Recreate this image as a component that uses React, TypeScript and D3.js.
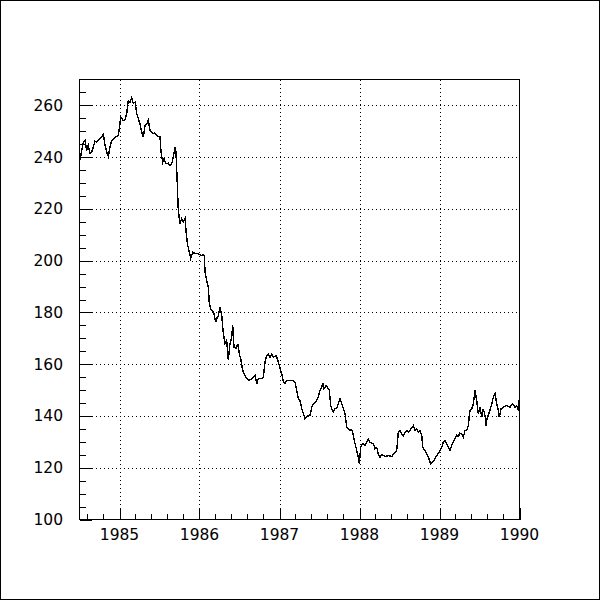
import { useEffect, useRef } from "react";
import * as d3 from "d3";

// time in decimal years
const years = [
  1984.506, 1984.528, 1984.548, 1984.569, 1984.59, 1984.61, 1984.631, 1984.653, 1984.673, 1984.694,
  1984.715, 1984.756, 1984.798, 1984.819, 1984.84, 1984.86, 1984.881, 1984.903, 1984.923, 1984.965,
  1984.985, 1984.998, 1985.015, 1985.028, 1985.048, 1985.069, 1985.09, 1985.11, 1985.131, 1985.153,
  1985.173, 1985.194, 1985.215, 1985.235, 1985.256, 1985.278, 1985.298, 1985.319, 1985.34, 1985.36,
  1985.381, 1985.403, 1985.423, 1985.444, 1985.465, 1985.485, 1985.506, 1985.519, 1985.54, 1985.556,
  1985.581, 1985.61, 1985.631, 1985.653, 1985.673, 1985.694, 1985.706, 1985.723, 1985.735, 1985.756,
  1985.778, 1985.798, 1985.819, 1985.831, 1985.848, 1985.873, 1985.89, 1985.915, 1985.944, 1985.985,
  1986.028, 1986.048, 1986.06, 1986.069, 1986.09, 1986.11, 1986.123, 1986.14, 1986.16, 1986.181,
  1986.203, 1986.215, 1986.235, 1986.256, 1986.278, 1986.298, 1986.319, 1986.34, 1986.36, 1986.381,
  1986.403, 1986.415, 1986.431, 1986.456, 1986.478, 1986.498, 1986.519, 1986.54, 1986.56, 1986.59,
  1986.619, 1986.653, 1986.694, 1986.715, 1986.735, 1986.778, 1986.798, 1986.819, 1986.84, 1986.86,
  1986.881, 1986.903, 1986.923, 1986.956, 1986.973, 1986.998, 1987.028, 1987.048, 1987.069, 1987.09,
  1987.131, 1987.173, 1987.194, 1987.215, 1987.235, 1987.256, 1987.278, 1987.298, 1987.319, 1987.34,
  1987.36, 1987.381, 1987.403, 1987.423, 1987.444, 1987.465, 1987.485, 1987.506, 1987.528, 1987.54,
  1987.556, 1987.581, 1987.598, 1987.623, 1987.64, 1987.66, 1987.673, 1987.694, 1987.715, 1987.735,
  1987.756, 1987.778, 1987.798, 1987.819, 1987.84, 1987.881, 1987.903, 1987.923, 1987.944, 1987.965,
  1987.985, 1987.998, 1988.015, 1988.04, 1988.069, 1988.09, 1988.11, 1988.131, 1988.173, 1988.194,
  1988.215, 1988.235, 1988.256, 1988.278, 1988.319, 1988.36, 1988.403, 1988.444, 1988.465, 1988.485,
  1988.506, 1988.528, 1988.548, 1988.569, 1988.59, 1988.61, 1988.631, 1988.673, 1988.694, 1988.715,
  1988.735, 1988.756, 1988.778, 1988.79, 1988.819, 1988.84, 1988.86, 1988.89, 1988.915, 1988.944,
  1988.965, 1988.998, 1989.028, 1989.048, 1989.069, 1989.09, 1989.11, 1989.131, 1989.153, 1989.173,
  1989.194, 1989.215, 1989.235, 1989.256, 1989.278, 1989.298, 1989.319, 1989.34, 1989.36, 1989.381,
  1989.403, 1989.423, 1989.444, 1989.465, 1989.485, 1989.506, 1989.528, 1989.548, 1989.569, 1989.581,
  1989.598, 1989.623, 1989.653, 1989.673, 1989.694, 1989.715, 1989.735, 1989.748, 1989.769, 1989.798,
  1989.84, 1989.881, 1989.915, 1989.944, 1989.965, 1989.985, 1989.994,
];

const rates = [
  238.8, 242.6, 245.8, 246.5, 242.6, 244.6, 241.5, 242.0, 243.9, 246.2,
  245.8, 247.1, 248.8, 244.6, 242.0, 240.3, 243.9, 246.5, 247.1, 248.0,
  248.4, 251.0, 255.5, 254.9, 254.2, 254.5, 256.8, 261.9, 261.3, 263.0,
  260.7, 261.3, 256.8, 254.9, 252.9, 249.7, 247.8, 252.3, 252.9, 254.2,
  250.4, 249.7, 249.1, 249.3, 248.4, 248.0, 247.8, 242.0, 238.1, 239.4,
  237.5, 237.7, 236.8, 237.5, 240.0, 243.7, 242.0, 229.1, 219.4, 214.3,
  216.2, 214.9, 216.2, 211.7, 206.6, 203.3, 200.8, 203.3, 202.7, 202.7,
  202.0, 202.4, 202.0, 195.6, 192.4, 189.8, 183.4, 181.4, 180.8, 179.5,
  176.3, 177.6, 178.8, 182.1, 178.8, 171.8, 167.9, 169.2, 161.5, 167.9,
  170.5, 175.0, 166.6, 166.0, 167.9, 164.0, 161.5, 157.6, 156.3, 154.4,
  153.7, 154.4, 155.7, 152.4, 154.4, 154.4, 155.0, 160.8, 163.4, 164.0,
  162.7, 164.0, 162.7, 163.4, 162.1, 159.5, 156.3, 153.1, 152.4, 153.7,
  153.7, 153.7, 153.1, 149.9, 146.7, 146.0, 142.8, 140.9, 138.9, 139.5,
  140.2, 140.2, 143.4, 144.7, 145.3, 146.0, 147.3, 149.9, 151.1, 152.7,
  150.5, 151.8, 151.1, 149.9, 144.1, 142.1, 141.5, 142.8, 142.8, 144.7,
  146.7, 144.7, 142.8, 140.9, 135.7, 134.4, 134.7, 132.5, 129.3, 126.7,
  124.1, 121.5, 127.9, 129.3, 128.6, 129.9, 131.2, 129.9, 129.3, 127.3,
  127.9, 125.4, 124.1, 125.1, 124.3, 124.7, 124.3, 126.0, 126.7, 133.7,
  134.4, 133.1, 132.5, 133.7, 134.4, 133.7, 134.4, 136.3, 134.4, 135.1,
  133.7, 134.4, 132.5, 127.9, 126.7, 125.4, 124.1, 121.5, 122.1, 123.5,
  124.7, 126.0, 127.9, 129.9, 130.5, 129.3, 127.9, 126.7, 128.6, 129.9,
  131.2, 132.5, 132.1, 133.4, 133.1, 131.8, 134.4, 134.4, 136.3, 142.1,
  142.8, 144.7, 149.9, 146.0, 140.9, 143.4, 139.5, 142.8, 140.2, 136.3,
  139.5, 141.5, 144.7, 147.3, 148.6, 144.7, 142.1, 139.5, 142.8, 143.4,
  144.1, 143.4, 144.7, 143.4, 144.1, 142.1, 146.0,
];

const xTicks = [1985, 1986, 1987, 1988, 1989, 1990];
const yTicks = [100, 120, 140, 160, 180, 200, 220, 240, 260];

export default function App() {
  const svgRef = useRef<SVGSVGElement>(null);

  useEffect(() => {
    if (!svgRef.current) return;
    const svg = d3.select(svgRef.current);
    svg.selectAll("*").remove();

    const W = 600;
    const H = 600;
    const left = 79.5;
    const right = 519.5;
    const top = 79.5;
    const bottom = 519.5;

    const x = d3.scaleLinear().domain([1984.5, 1990]).range([left, right]);
    const y = d3.scaleLinear().domain([100, 270]).range([bottom, top]);

    svg.append("rect").attr("width", W).attr("height", H).attr("fill", "#fff");
    svg
      .append("rect")
      .attr("x", 0.5)
      .attr("y", 0.5)
      .attr("width", W - 1)
      .attr("height", H - 1)
      .attr("fill", "none")
      .attr("stroke", "#000");

    // dotted grid
    const grid = svg
      .append("g")
      .attr("stroke", "#000")
      .attr("stroke-width", 1)
      .attr("stroke-dasharray", "1,3")
      .attr("shape-rendering", "crispEdges");
    grid
      .selectAll("line.gx")
      .data(xTicks.filter((t) => t < 1990))
      .join("line")
      .attr("class", "gx")
      .attr("x1", (d) => Math.round(x(d)) + 0.5)
      .attr("x2", (d) => Math.round(x(d)) + 0.5)
      .attr("y1", top)
      .attr("y2", bottom);
    grid
      .selectAll("line.gy")
      .data(yTicks.filter((t) => t > 100))
      .join("line")
      .attr("class", "gy")
      .attr("x1", left)
      .attr("x2", right)
      .attr("y1", (d) => Math.round(y(d)) + 0.5)
      .attr("y2", (d) => Math.round(y(d)) + 0.5);

    // curve
    const pts = years.map((t, i) => [t, rates[i]] as [number, number]);
    svg
      .append("path")
      .datum(pts)
      .attr("fill", "none")
      .attr("stroke", "#000")
      .attr("stroke-width", 1.4)
      .attr("shape-rendering", "crispEdges")
      .attr(
        "d",
        d3
          .line<[number, number]>()
          .x((d) => x(d[0]))
          .y((d) => y(d[1])),
      );

    // frame
    svg
      .append("rect")
      .attr("x", left)
      .attr("y", top)
      .attr("width", right - left)
      .attr("height", bottom - top)
      .attr("fill", "none")
      .attr("stroke", "#000")
      .attr("shape-rendering", "crispEdges");

    const ticks = svg.append("g").attr("stroke", "#000").attr("shape-rendering", "crispEdges");

    // y ticks: major every 20, minor every 5
    const yMinor = d3.range(105, 270, 5).filter((v) => v % 20 !== 0);
    ticks
      .selectAll("line.ym")
      .data(yTicks)
      .join("line")
      .attr("class", "ym")
      .attr("x1", left)
      .attr("x2", left + 12)
      .attr("y1", (d) => Math.round(y(d)) + 0.5)
      .attr("y2", (d) => Math.round(y(d)) + 0.5);
    ticks
      .selectAll("line.yn")
      .data(yMinor)
      .join("line")
      .attr("class", "yn")
      .attr("x1", left)
      .attr("x2", left + 6)
      .attr("y1", (d) => Math.round(y(d)) + 0.5)
      .attr("y2", (d) => Math.round(y(d)) + 0.5);

    // x ticks: major every year, minor every 0.2
    const xMinor = d3.range(1984.6, 1990, 0.2).filter((v) => Math.abs(v - Math.round(v)) > 0.01);
    ticks
      .selectAll("line.xm")
      .data(xTicks)
      .join("line")
      .attr("class", "xm")
      .attr("x1", (d) => Math.round(x(d)) + 0.5)
      .attr("x2", (d) => Math.round(x(d)) + 0.5)
      .attr("y1", bottom)
      .attr("y2", bottom - 12);
    ticks
      .selectAll("line.xn")
      .data(xMinor)
      .join("line")
      .attr("class", "xn")
      .attr("x1", (d) => Math.round(x(d)) + 0.5)
      .attr("x2", (d) => Math.round(x(d)) + 0.5)
      .attr("y1", bottom)
      .attr("y2", bottom - 6);

    const font = "'DejaVu Sans', sans-serif";
    svg
      .append("g")
      .selectAll("text")
      .data(yTicks)
      .join("text")
      .attr("x", 63)
      .attr("y", (d) => y(d) + 5.5)
      .attr("text-anchor", "end")
      .attr("font-family", font)
      .attr("font-size", 15.5)
      .attr("fill", "#000")
      .text((d) => String(d));
    svg
      .append("g")
      .selectAll("text")
      .data(xTicks)
      .join("text")
      .attr("x", (d) => x(d))
      .attr("y", 539.5)
      .attr("text-anchor", "middle")
      .attr("font-family", font)
      .attr("font-size", 15.5)
      .attr("fill", "#000")
      .text((d) => String(d));
  }, []);

  return (
    <svg
      ref={svgRef}
      width={600}
      height={600}
      style={{ position: "absolute", left: 0, top: 0, display: "block" }}
    />
  );
}
